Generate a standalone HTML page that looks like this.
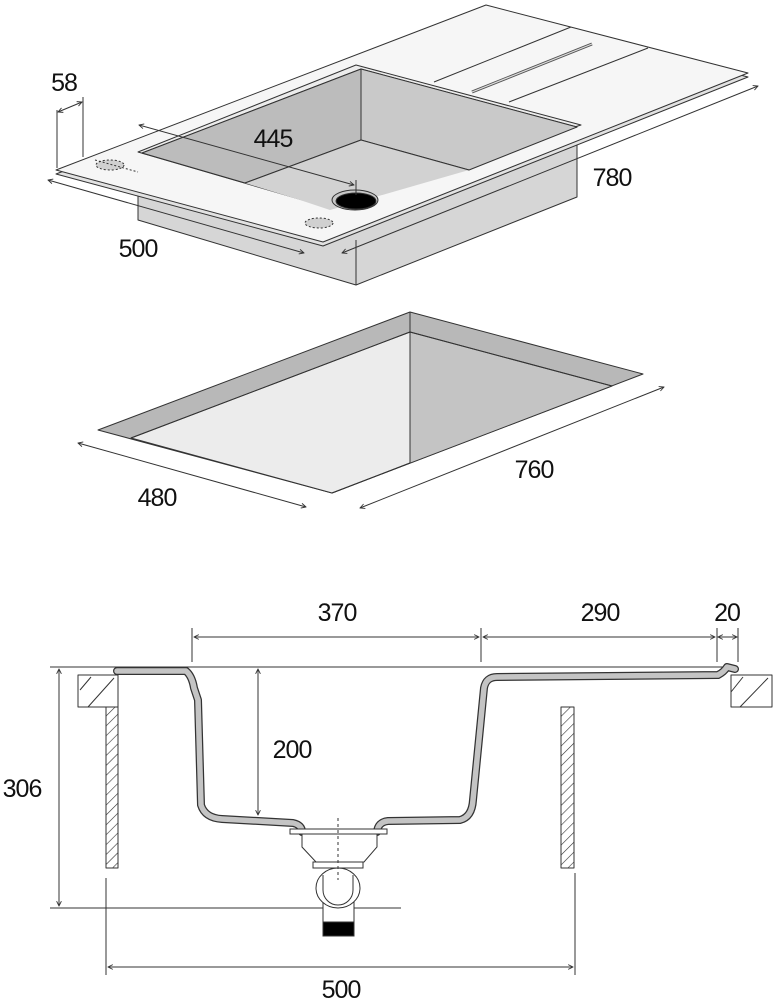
<!DOCTYPE html>
<html><head><meta charset="utf-8"><style>
html,body{margin:0;padding:0;background:#fff;}
svg{display:block;}
text{font-family:"Liberation Sans",sans-serif;font-size:25px;fill:#111;letter-spacing:-1px;}
</style></head><body>
<svg width="781" height="1000" viewBox="0 0 781 1000" xmlns="http://www.w3.org/2000/svg">
<defs>
<marker id="a" viewBox="0 0 10 10" refX="9" refY="5" markerWidth="6" markerHeight="6" orient="auto-start-reverse"><path d="M1,1 L9,5 L1,9" fill="none" stroke="#333" stroke-width="1.5"/></marker>
<pattern id="h" patternUnits="userSpaceOnUse" width="7" height="7" patternTransform="rotate(45)"><line x1="0" y1="0" x2="0" y2="7" stroke="#333" stroke-width="1.2"/></pattern>
</defs>
<g stroke="#333" stroke-width="1" stroke-linejoin="round">
<polygon points="138,185 138,220 356,285 577,197 577,130" fill="#d6d6d6"/>
<line x1="356" y1="240" x2="356" y2="285"/>
<polygon points="56,174 486,10 748,77 323,246" fill="#e2e2e2"/>
<polygon points="56,170 486,5 748,73 323,242" fill="#f6f6f6"/>
<line x1="434" y1="82" x2="571" y2="27"/>
<line x1="509" y1="102" x2="648" y2="48"/>
<path d="M472,92 L592,44" stroke-width="3" stroke="#555"/>
<path d="M472,92 L592,44" stroke-width="1.2" stroke="#ddd"/>
<polygon points="138,152 356,65 581,125 323,206" fill="#ececec"/>
<polygon points="142,153 361,69 577,127 320,202" fill="#c4c4c4"/>
<polygon points="142,153 361,69 361,140 245,183" fill="#bcbcbc"/>
<polygon points="361,69 577,127 469,170 361,140" fill="#c9c9c9"/>
<polygon points="245,183 361,140 469,170 330,210 300,200" fill="#d2d2d2" stroke="none"/>
<line x1="245" y1="183" x2="361" y2="140"/>
<line x1="361" y1="140" x2="469" y2="170"/>
<ellipse cx="355" cy="200" rx="23" ry="10" fill="#c8c8c8"/>
<ellipse cx="356" cy="201" rx="20" ry="8" fill="#000"/>
<ellipse cx="110" cy="165" rx="14" ry="5" fill="#d0d0d0" stroke-dasharray="2,2"/>
<line x1="95" y1="160" x2="138" y2="172" stroke-dasharray="2,2"/>
<ellipse cx="319" cy="223" rx="14" ry="5" fill="#d0d0d0" stroke-dasharray="2,2"/>
<line x1="57" y1="110" x2="57" y2="168"/>
<line x1="83" y1="97" x2="83" y2="157"/>
<line x1="58" y1="112" x2="82" y2="102" marker-start="url(#a)" marker-end="url(#a)"/>
<line x1="48" y1="180" x2="304" y2="253" marker-start="url(#a)" marker-end="url(#a)"/>
<line x1="139" y1="125" x2="354" y2="185" marker-start="url(#a)" marker-end="url(#a)"/>
<line x1="356" y1="180" x2="356" y2="195"/>
<line x1="342" y1="253" x2="758" y2="86" marker-start="url(#a)" marker-end="url(#a)"/>
<polygon points="98,430 410,312 643,374 332,493" fill="#b8b8b8"/>
<polygon points="131,438 410,332 410,463 332,493" fill="#ececec"/>
<polygon points="410,332 612,386 332,493 410,463" fill="#c4c4c4"/>
<polyline points="131,438 410,332 612,386" fill="none"/>
<line x1="410" y1="312" x2="410" y2="463"/>
<line x1="78" y1="443" x2="306" y2="507" marker-start="url(#a)" marker-end="url(#a)"/>
<line x1="360" y1="508" x2="664" y2="387" marker-start="url(#a)" marker-end="url(#a)"/>
<line x1="192" y1="628" x2="192" y2="662"/>
<line x1="481" y1="628" x2="481" y2="662"/>
<line x1="717" y1="628" x2="717" y2="662"/>
<line x1="738" y1="628" x2="738" y2="662"/>
<line x1="194" y1="637" x2="479" y2="637" marker-start="url(#a)" marker-end="url(#a)"/>
<line x1="483" y1="637" x2="715" y2="637" marker-start="url(#a)" marker-end="url(#a)"/>
<line x1="718" y1="637" x2="737" y2="637" marker-start="url(#a)" marker-end="url(#a)"/>
<line x1="50" y1="667" x2="738" y2="667"/>
<line x1="50" y1="908" x2="401" y2="908"/>
<line x1="59" y1="669" x2="59" y2="906" marker-start="url(#a)" marker-end="url(#a)"/>
<line x1="258" y1="669" x2="258" y2="815" marker-start="url(#a)" marker-end="url(#a)"/>
<line x1="106" y1="878" x2="106" y2="975"/>
<line x1="575" y1="873" x2="575" y2="975"/>
<line x1="108" y1="967" x2="573" y2="967" marker-start="url(#a)" marker-end="url(#a)"/>
<rect x="78" y="675" width="40" height="32" fill="#fff"/>
<line x1="88" y1="707" x2="114" y2="678"/><line x1="80" y1="690" x2="91" y2="677"/>
<rect x="106" y="707" width="12" height="161" fill="url(#h)"/>
<rect x="561" y="707" width="13" height="161" fill="url(#h)"/>
<rect x="731" y="675" width="41" height="32" fill="#fff"/>
<line x1="740" y1="707" x2="768" y2="678"/><line x1="731" y1="692" x2="743" y2="677"/>
</g>
<path d="M117,671 L186,671 Q192,676 194,688 L198,700 L201,805 Q205,818 222,819 L293,823 Q302,825 302,832 M377,832 Q378,822 388,821 L460,820 Q472,817 473,800 L484,688 Q486,677 497,677 L718,675 Q724,672 727,667 L735,669" fill="none" stroke="#333" stroke-width="8" stroke-linecap="round" stroke-linejoin="round"/>
<path d="M117,671 L186,671 Q192,676 194,688 L198,700 L201,805 Q205,818 222,819 L293,823 Q302,825 302,832 M377,832 Q378,822 388,821 L460,820 Q472,817 473,800 L484,688 Q486,677 497,677 L718,675 Q724,672 727,667 L735,669" fill="none" stroke="#c4c4c4" stroke-width="5.5" stroke-linecap="round" stroke-linejoin="round"/>
<g stroke="#333" stroke-width="1" fill="#fff">
<path d="M302,834 L302,847 L316,862 L364,862 L377,847 L377,834 Z"/>
<rect x="290" y="829" width="97" height="5"/>
<rect x="313" y="862" width="50" height="6"/>
<rect x="323" y="900" width="31" height="36"/>
<rect x="323" y="922" width="31" height="14" fill="#000"/>
<ellipse cx="338" cy="888" rx="22" ry="20"/>
<path d="M323,875 L323,890 A15,15 0 0 0 353,890 L353,875" fill="none"/>
<line x1="338" y1="818" x2="338" y2="880" stroke-dasharray="3,3"/>
</g>
<g>
<text x="64" y="91" text-anchor="middle">58</text>
<text x="273" y="147" text-anchor="middle">445</text>
<text x="612" y="186" text-anchor="middle">780</text>
<text x="138" y="257" text-anchor="middle">500</text>
<text x="157" y="506" text-anchor="middle">480</text>
<text x="534" y="478" text-anchor="middle">760</text>
<text x="337" y="621" text-anchor="middle">370</text>
<text x="600" y="621" text-anchor="middle">290</text>
<text x="727" y="621" text-anchor="middle">20</text>
<text x="292" y="758" text-anchor="middle">200</text>
<text x="22" y="797" text-anchor="middle">306</text>
<text x="341" y="998" text-anchor="middle">500</text>
</g>
</svg>
</body></html>
